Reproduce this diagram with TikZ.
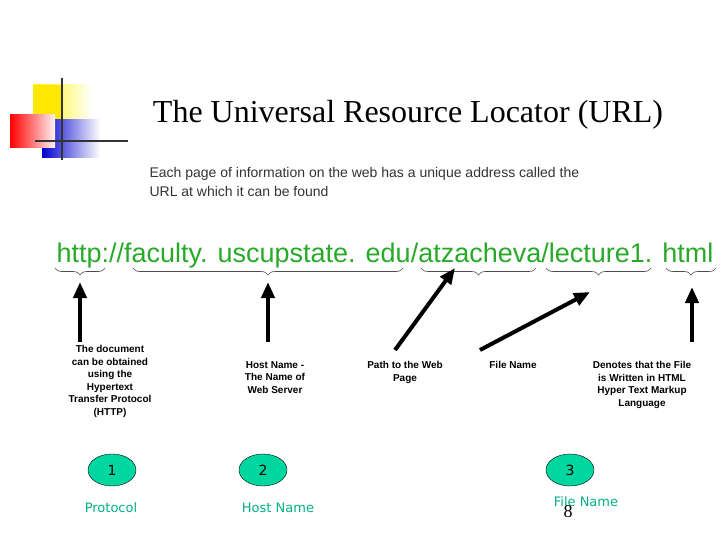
\documentclass[tikz,border=0pt]{standalone}
\usepackage{fontspec}
\setmainfont{Liberation Serif}
\newfontfamily\arial{Liberation Sans}
\newfontfamily\tah{DejaVu Sans}
\usetikzlibrary{decorations.pathreplacing,shapes.geometric,arrows.meta}
\begin{document}
\begin{tikzpicture}[x=1pt,y=-1pt,
 br/.style={decorate,decoration={brace,mirror,amplitude=7pt},draw=black!70,line width=0.6pt},
 bigarr/.style={-{Triangle[length=16pt,width=13pt]},line width=4pt},
 lab/.style={font=\arial\bfseries\fontsize{10}{12.5}\selectfont,align=center},
 num/.style={ellipse,draw,fill={rgb,255:red,0;green,215;blue,160},minimum width=48pt,minimum height=32pt,inner sep=0pt,font=\tah\fontsize{14}{14}\selectfont},
 captxt/.style={text={rgb,255:red,0;green,175;blue,135},font=\tah\fontsize{13}{13}\selectfont}]
\useasboundingbox (0,0) rectangle (720,540);
% logo
\shade[left color=yellow!90!orange,right color=white] (33,85) rectangle (92,120);
\fill[yellow!90!orange] (33,85) rectangle (62,120);
\shade[left color=blue!80!black,right color=white] (42,120) rectangle (100,158);
\shade[left color=red,right color=red!5] (10,115) rectangle (55,148);
\draw[line width=2.5pt,black!80] (62,78) -- (62,160);
\draw[line width=2.5pt,black!80] (35,141) -- (128,141);
\node (title) at (408,115) {\fontsize{32}{32}\selectfont The Universal Resource Locator (URL)};
\node (sub) [anchor=north west,align=left,font=\arial\fontsize{14}{19}\selectfont,text=black!80] at (146,164) {Each page of information on the web has a unique address called the\\URL at which it can be found};
\node (url) [font=\arial\fontsize{27}{27}\selectfont,text={rgb,255:red,40;green,170;blue,40}] at (385,256) {http://faculty. uscupstate. edu/atzacheva/lecture1. html};
% braces
\draw[br] (55,268) -- (105,268);
\draw[br] (133,268) -- (403,268);
\draw[br] (421,268) -- (536,268);
\draw[br] (546,268) -- (651,268);
\draw[br] (666,268) -- (716,268);
% arrows
\coordinate (a1s) at (80,342); \coordinate (a1e) at (80,282);
\coordinate (a2s) at (268,342); \coordinate (a2e) at (268,282);
\coordinate (a3s) at (395,350); \coordinate (a3e) at (455,268);
\coordinate (a4s) at (480,350); \coordinate (a4e) at (590,292);
\coordinate (a5s) at (692,342); \coordinate (a5e) at (692,287);
\draw[bigarr] (a1s) -- (a1e);
\draw[bigarr] (a2s) -- (a2e);
\draw[bigarr] (a3s) -- (a3e);
\draw[bigarr] (a4s) -- (a4e);
\draw[bigarr] (a5s) -- (a5e);
% labels
\node (l1) [lab,anchor=north] at (110,342) {The document\\can be obtained\\using the\\Hypertext\\Transfer Protocol\\(HTTP)};
\node (l2) [lab,anchor=north] at (275,358) {Host Name -\\The Name of\\Web Server};
\node (l3) [lab,anchor=north] at (405,358) {Path to the Web\\Page};
\node (l4) [lab,anchor=north] at (513,358) {File Name};
\node (l5) [lab,anchor=north] at (642,358) {Denotes that the File\\is Written in HTML\\Hyper Text Markup\\Language};
% circles
\node (n1) [num] at (112,470) {1};
\node (n2) [num] at (263,470) {2};
\node (n3) [num] at (570,470) {3};
\node (c1) [captxt] at (111,508) {Protocol};
\node (c2) [captxt] at (278,508) {Host Name};
\node (c3) [captxt] at (586,502) {File Name};
\node (pg) at (568,512) {\fontsize{18}{18}\selectfont 8};
\end{tikzpicture}
\end{document}
